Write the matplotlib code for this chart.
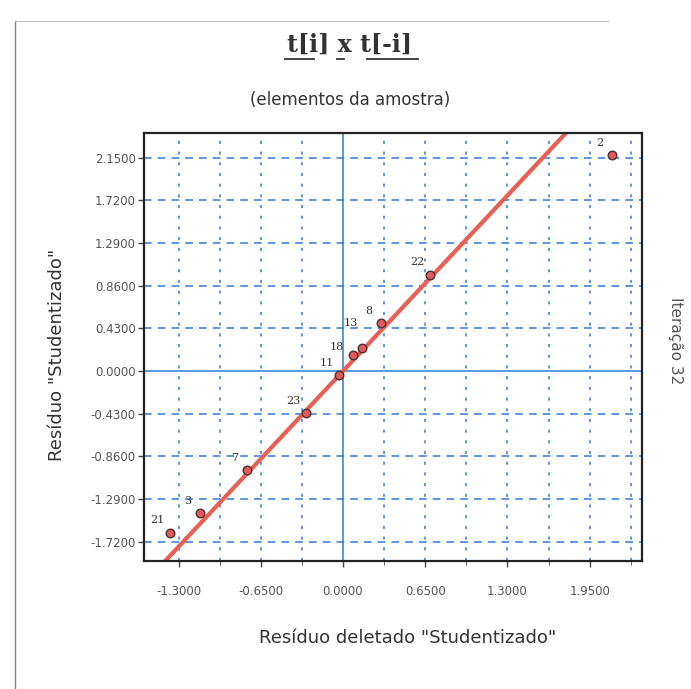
import matplotlib
matplotlib.use("Agg")
from matplotlib import pyplot as plt
from matplotlib.lines import Line2D
import numpy as np

# studentized residual vs deleted studentized residual, one point per sample
obs_ids = ["21", "3", "7", "23", "11", "18", "13", "8", "22", "2"]
t_del = [-1.368, -1.131, -0.759, -0.293, -0.030, 0.079, 0.150, 0.300, 0.688, 2.127]
t_stud = [-1.631, -1.430, -0.997, -0.423, -0.045, 0.161, 0.232, 0.483, 0.967, 2.175]

# reference line through the origin
line_slope = 1.36
line_intercept = 0.0

x_ticks = [-1.30, -0.65, 0.0, 0.65, 1.30, 1.95]
x_tick_labels = ["-1.3000", "-0.6500", "0.0000", "0.6500", "1.3000", "1.9500"]
y_ticks = [-1.72, -1.29, -0.86, -0.43, 0.0, 0.43, 0.86, 1.29, 1.72, 2.15]
y_tick_labels = ["-1.7200", "-1.2900", "-0.8600", "-0.4300", "0.0000",
                 "0.4300", "0.8600", "1.2900", "1.7200", "2.1500"]
x_grid = np.arange(-4, 8) * 0.325
y_grid = y_ticks

fig = plt.figure(figsize=(6.91, 6.89), dpi=100)
ax = fig.add_axes([0.2084, 0.1858, 0.7207, 0.6212])

grid_col = "#2f7ad8"
for gx in x_grid:
    if abs(gx) < 1e-9:
        ax.axvline(gx, color=grid_col, lw=1.1, zorder=1)
    else:
        ax.axvline(gx, color=grid_col, lw=1.1, ls=(0, (2, 5)), zorder=1)
for gy in y_grid:
    if abs(gy) < 1e-9:
        ax.axhline(gy, color=grid_col, lw=1.1, zorder=1)
    else:
        ax.axhline(gy, color=grid_col, lw=1.1, ls=(0, (5, 4)), zorder=1)

xs = np.array([-2.0, 3.0])
ax.plot(xs, line_slope * xs + line_intercept, color="#ea5f55", lw=3, zorder=2,
        solid_capstyle="butt")

ax.scatter(t_del, t_stud, s=38, facecolor="#e25a5a", edgecolor="#4a3030",
           linewidth=1.0, zorder=3)
# label offsets (points); the two close points get split labels
label_offset = {"18": (-12, 6), "13": (-8, 18)}
for lab, x, y in zip(obs_ids, t_del, t_stud):
    ax.annotate(lab, (x, y), xytext=label_offset.get(lab, (-9, 9)),
                textcoords="offset points", fontsize=8, color="#333333",
                ha="center", va="center", family="DejaVu Serif", zorder=4)

ax.set_xlim(-1.574, 2.364)
ax.set_ylim(-1.913, 2.397)
ax.set_xticks(x_ticks)
ax.set_xticklabels(x_tick_labels)
ax.set_yticks(y_ticks)
ax.set_yticklabels(y_tick_labels)
ax.set_xticks(x_grid, minor=True)
ax.tick_params(axis="both", labelsize=8.5, labelcolor="#555555", color="#444444",
               length=4, width=1)
ax.tick_params(axis="x", which="minor", length=3, color="#444444")
ax.tick_params(axis="x", pad=13)
ax.tick_params(axis="y", pad=2)
for sp in ax.spines.values():
    sp.set_color("#222222")
    sp.set_linewidth(1.6)

fig.text(0.506, 0.935, "t[i] x t[-i]", ha="center", va="center", fontsize=17,
         family="DejaVu Serif", weight="bold", color="#333333")
fig.add_artist(Line2D([0.412, 0.455], [0.914, 0.914], color="#333333", lw=1.3))
fig.add_artist(Line2D([0.487, 0.498], [0.914, 0.914], color="#333333", lw=1.3))
fig.add_artist(Line2D([0.531, 0.605], [0.914, 0.914], color="#333333", lw=1.3))
fig.text(0.506, 0.855, "(elementos da amostra)", ha="center", va="center",
         fontsize=12, color="#333333")

fig.text(0.083, 0.485, "Resíduo \"Studentizado\"", rotation=90, ha="center",
         va="center", fontsize=13, color="#333333")
fig.text(0.59, 0.074, "Resíduo deletado \"Studentizado\"", ha="center",
         va="center", fontsize=13, color="#333333")
fig.text(0.978, 0.505, "Iteração 32", rotation=-90, ha="center", va="center",
         fontsize=11, color="#555555")

# page edges
fig.add_artist(Line2D([0.022, 0.022], [0.0, 0.97], color="#888888", lw=1.0))
fig.add_artist(Line2D([0.022, 0.88], [0.97, 0.97], color="#bbbbbb", lw=0.8))

fig.savefig("out.png", dpi=100)
